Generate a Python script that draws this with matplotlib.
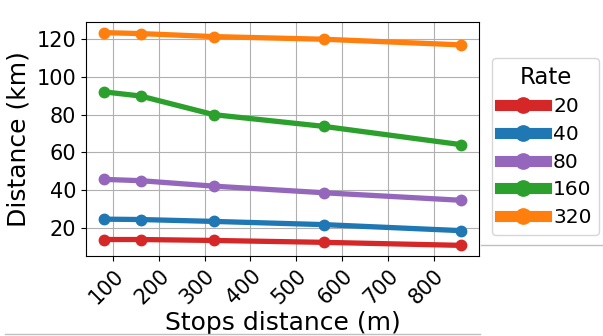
import matplotlib
matplotlib.use("Agg")
import matplotlib.pyplot as plt
from matplotlib.lines import Line2D

stops = [80, 160, 320, 560, 860]
rates = ["20", "40", "80", "160", "320"]
values = {
    "20": [13.8, 13.8, 13.3, 12.3, 10.7],
    "40": [24.6, 24.4, 23.4, 21.7, 18.5],
    "80": [45.7, 45.0, 42.1, 38.6, 34.6],
    "160": [92.1, 89.9, 80.0, 73.8, 64.1],
    "320": [123.5, 123.0, 121.4, 120.0, 117.0],
}
colors = {"20": "#d62728", "40": "#1f77b4", "80": "#9467bd", "160": "#2ca02c", "320": "#ff7f0e"}

fig = plt.figure(figsize=(6.03, 3.36), dpi=100)
ax = fig.add_axes([86/603, 1-256/336, (479-86)/603, (256-22)/336])
for r in rates:
    ax.plot(stops, values[r], color=colors[r], lw=3.8, marker="o", ms=7.5, label=r)

ax.grid(True, color="#b0b0b0", lw=0.8)
ax.set_axisbelow(True)
ax.set_xticks([100, 200, 300, 400, 500, 600, 700, 800])
ax.set_yticks([20, 40, 60, 80, 100, 120])
ax.tick_params(axis="both", labelsize=15)
plt.setp(ax.get_xticklabels(), rotation=45, ha="right", rotation_mode="anchor")
ax.set_xlabel("Stops distance (m)", fontsize=18, labelpad=2)
ax.set_ylabel("Distance (km)", fontsize=18)

leg = ax.legend(title="Rate", loc="upper left", bbox_to_anchor=(492/603, 1-58/336),
                bbox_transform=fig.transFigure, borderaxespad=0,
                fontsize=14.5, title_fontsize=16.5, handlelength=2.3, borderpad=0.38,
                labelspacing=0.43, handletextpad=0.35)
for h in leg.legend_handles:
    h.set_linewidth(8)
    h.set_markersize(11)

fig.add_artist(Line2D([481/603, 1], [1-245/336, 1-245/336], color="#c0c0c0", lw=1))
fig.add_artist(Line2D([5/603, 480/603], [1-334/336, 1-334/336], color="#c0c0c0", lw=1))

fig.savefig("out.png", dpi=100)
